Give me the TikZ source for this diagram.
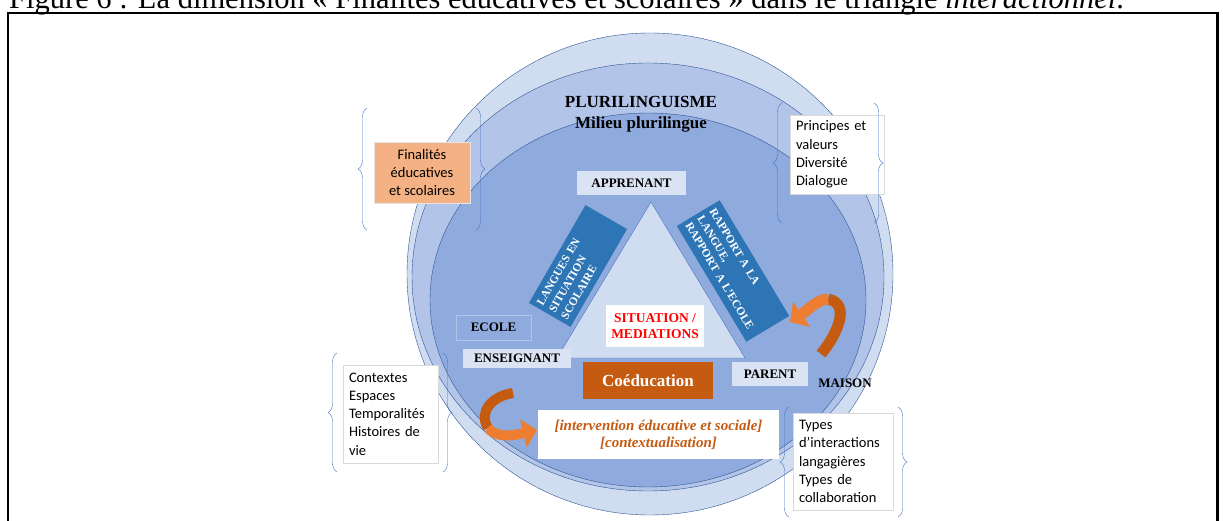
\documentclass[tikz,border=0pt]{standalone}
\usepackage{fontspec}
\setmainfont{Liberation Serif}
\newfontfamily\calibri{Carlito}
\usetikzlibrary{decorations.pathreplacing,arrows.meta}

\definecolor{ringA}{HTML}{D0DCF0}
\definecolor{ringB}{HTML}{B2C5E8}
\definecolor{ringC}{HTML}{8FAADC}
\definecolor{lineblue}{HTML}{2F5597}
\definecolor{paleblue}{HTML}{DAE3F3}
\definecolor{darkblue}{HTML}{2E75B6}
\definecolor{rust}{HTML}{C55A11}
\definecolor{peach}{HTML}{F4B183}
\definecolor{braceblue}{HTML}{4472C4}
\definecolor{ribbon}{HTML}{ED7D31}

\tikzset{
  tag/.style={fill=paleblue, inner sep=0pt, font=\bfseries\fontsize{13}{15}\selectfont},
  rotbox/.style={fill=darkblue, text=white, inner xsep=4pt, inner ysep=0pt, align=left,
    font=\bfseries\fontsize{11.5}{14}\selectfont},
  sidebox/.style={fill=white, draw=black!15, inner xsep=6pt, inner ysep=0pt, align=left,
    font=\calibri\fontsize{14.5}{18.3}\selectfont},
  curly/.style={braceblue, thin, decorate, decoration={brace, amplitude=9pt}},
}

\begin{document}
\begin{tikzpicture}[x=1pt, y=-1pt]
    \useasboundingbox (0,0) rectangle (1223,521);

    % Caption and frame
    \node[anchor=base west, inner sep=0pt, font=\fontsize{30.5}{33}\selectfont] (caption) at (9,9)
        {Figure 6 : La dimension « Finalités éducatives et scolaires » dans le triangle \textit{interactionnel}.};
    \draw[line width=2.2pt] (8,12.7) rectangle (1217.5,560);

    % Circles
    \draw[fill=ringA, draw=lineblue] (650,274) ellipse [x radius=243pt, y radius=241pt];
    \draw[fill=ringB, draw=lineblue] (648,277) ellipse [x radius=236pt, y radius=214pt];
    \draw[fill=ringC, draw=lineblue] (648,300) ellipse [x radius=218pt, y radius=187pt];

    \node[font=\bfseries\fontsize{17}{19}\selectfont] (pluri) at (641,102) {PLURILINGUISME};
    \node[font=\bfseries\fontsize{17}{19}\selectfont] (milieu) at (641,124) {Milieu plurilingue};

    % Triangle
    \coordinate (top) at (651,202);
    \coordinate (right) at (745,358);
    \coordinate (left) at (557,358);
    \draw[fill=ringA, draw=braceblue] (top) -- (right) -- (left) -- cycle;

    % Rotated boxes
    \node[rotbox, text width=105pt, minimum height=48pt, rotate=60] (langues) at (578,266)
        {LANGUES EN\\SITUATION\\SCOLAIRE};
    \node[rotbox, text width=127pt, minimum height=50pt, rotate=-59] (rapport) at (733,271)
        {RAPPORT A LA\\LANGUE,\\RAPPORT A L'ECOLE};

    % Labels
    \node[tag, minimum width=109pt, minimum height=24pt] (apprenant) at (631.5,183) {APPRENANT};
    \node[tag, minimum width=108pt, minimum height=19pt] (enseignant) at (517,358.5) {ENSEIGNANT};
    \node[tag, minimum width=76pt, minimum height=24pt] (parent) at (770,374) {PARENT};
    \node[tag, fill=ringC, draw=ringB, minimum width=75pt, minimum height=25pt] (ecole) at (493.5,327.5) {ECOLE};
    \node[font=\bfseries\fontsize{13}{15}\selectfont, inner sep=0pt] (maison) at (845,383) {MAISON};

    \node[fill=white, text=red, inner sep=0pt, align=center, minimum width=98pt, minimum height=42pt,
        font=\bfseries\fontsize{13.5}{15.5}\selectfont] (situation) at (655,326) {SITUATION /\\MEDIATIONS};
    \node[fill=rust, text=white, inner sep=0pt, minimum width=130pt, minimum height=37pt,
        font=\bfseries\fontsize{17}{19}\selectfont] (coeduc) at (648,380.5) {Coéducation};
    \node[fill=white, text=rust, inner sep=0pt, align=center, minimum width=241pt, minimum height=49pt,
        font=\bfseries\itshape\fontsize{15}{17}\selectfont] (interv) at (658.5,434.5)
        {[intervention éducative et sociale]\\{}[contextualisation]};

    % Curved arrows
    \draw[line width=11pt, rust] (821,354) .. controls (836,336) and (852,304) .. (828,299);
    \draw[line width=11pt, ribbon, -{Triangle[length=14pt, width=30pt]}] (828,299)
        .. controls (818,299) and (808,310) .. (790,322);
    \draw[line width=10pt, rust] (513,393) .. controls (492,396) and (478,412) .. (488,428);
    \draw[line width=10pt, ribbon, -{Triangle[length=14pt, width=28pt]}] (488,428)
        .. controls (496,438) and (512,436) .. (537,430);

    % Side boxes
    \node[fill=peach, draw=black!10, inner sep=0pt, align=center, minimum width=96pt, minimum height=61pt,
        font=\calibri\fontsize{14.5}{18.3}\selectfont] (finalites) at (422,172.5)
        {Finalités\\éducatives\\et scolaires};
    \node[sidebox, text width=82pt, minimum height=79pt] (principes) at (837,154.5)
        {Principes et\\valeurs\\Diversité\\Dialogue};
    \node[sidebox, text width=83pt, minimum height=98pt] (contextes) at (390.5,414)
        {Contextes\\Espaces\\Temporalités\\Histoires de\\vie};
    \node[sidebox, text width=88pt, minimum height=97pt] (types) at (843,461.5)
        {Types\\d’interactions\\langagières\\Types de\\collaboration};

    % Braces
    \draw[curly] (367,230) -- (367,108);
    \draw[curly] (476,108) -- (476,230);
    \draw[curly] (782,223) -- (782,103);
    \draw[curly] (874,103) -- (874,223);
    \draw[curly] (337,472) -- (337,353);
    \draw[curly] (443,353) -- (443,472);
    \draw[curly] (789,517) -- (789,407);
    \draw[curly] (898,407) -- (898,517);
\end{tikzpicture}
\end{document}
